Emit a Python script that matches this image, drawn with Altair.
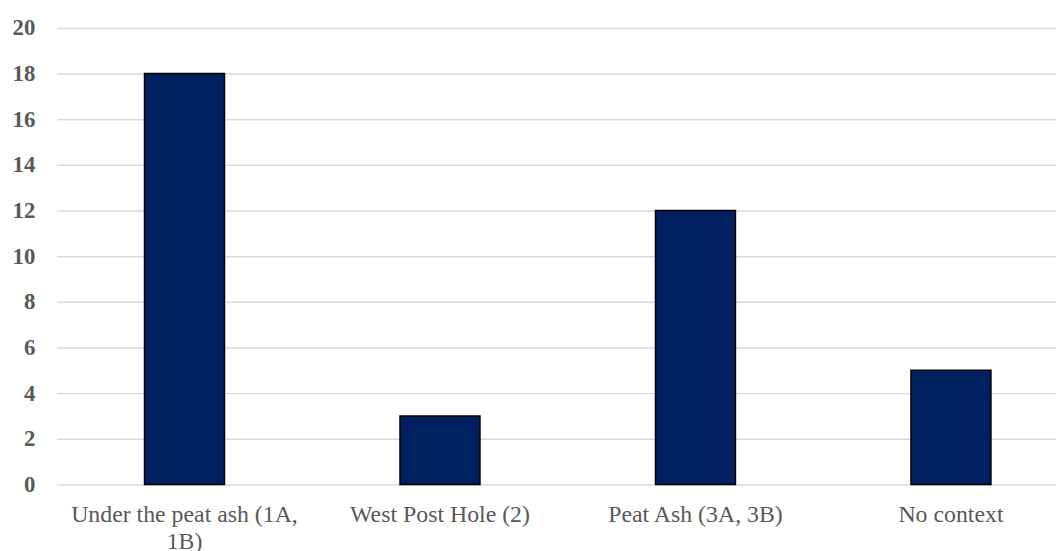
import altair as alt
import pandas as pd

categories = ["Under the peat ash (1A, 1B)", "West Post Hole (2)", "Peat Ash (3A, 3B)", "No context"]
counts = [18, 3, 12, 5]
y_ticks = [0, 2, 4, 6, 8, 10, 12, 14, 16, 18, 20]

df = pd.DataFrame({"category": categories, "count": counts})

label_expr = ("datum.label == 'Under the peat ash (1A, 1B)' ? "
              "['Under the peat ash (1A,', '1B)'] : datum.label")

chart = alt.Chart(df).mark_bar(
    color="#002060", stroke="#000000", strokeWidth=1.5
).encode(
    x=alt.X("category:N", sort=categories, title=None,
            scale=alt.Scale(range=[0, 1030], paddingInner=0.687, paddingOuter=0.344),
            axis=alt.Axis(labelAngle=0, labelFont="Liberation Serif", labelFontSize=24,
                          labelColor="#595959", ticks=False, domain=False,
                          labelPadding=18, labelExpr=label_expr, labelLimit=400,
                          labelLineHeight=28)),
    y=alt.Y("count:Q", title=None,
            scale=alt.Scale(domain=[0, 20], nice=False),
            axis=alt.Axis(values=y_ticks, labelFont="Liberation Serif", labelFontSize=23,
                          labelFontWeight="bold", labelColor="#595959", ticks=False,
                          domain=False, labelPadding=22, gridColor="#D9D9D9",
                          gridWidth=1.5)),
).properties(
    width=1007, height=460,
    autosize=alt.AutoSizeParams(type="none"),
    padding={"left": 49, "top": 18, "right": 0, "bottom": 65},
).configure_view(stroke=None).configure_axisX(grid=False)

chart.save("out.html", embed_options={"renderer": "svg", "actions": False})
